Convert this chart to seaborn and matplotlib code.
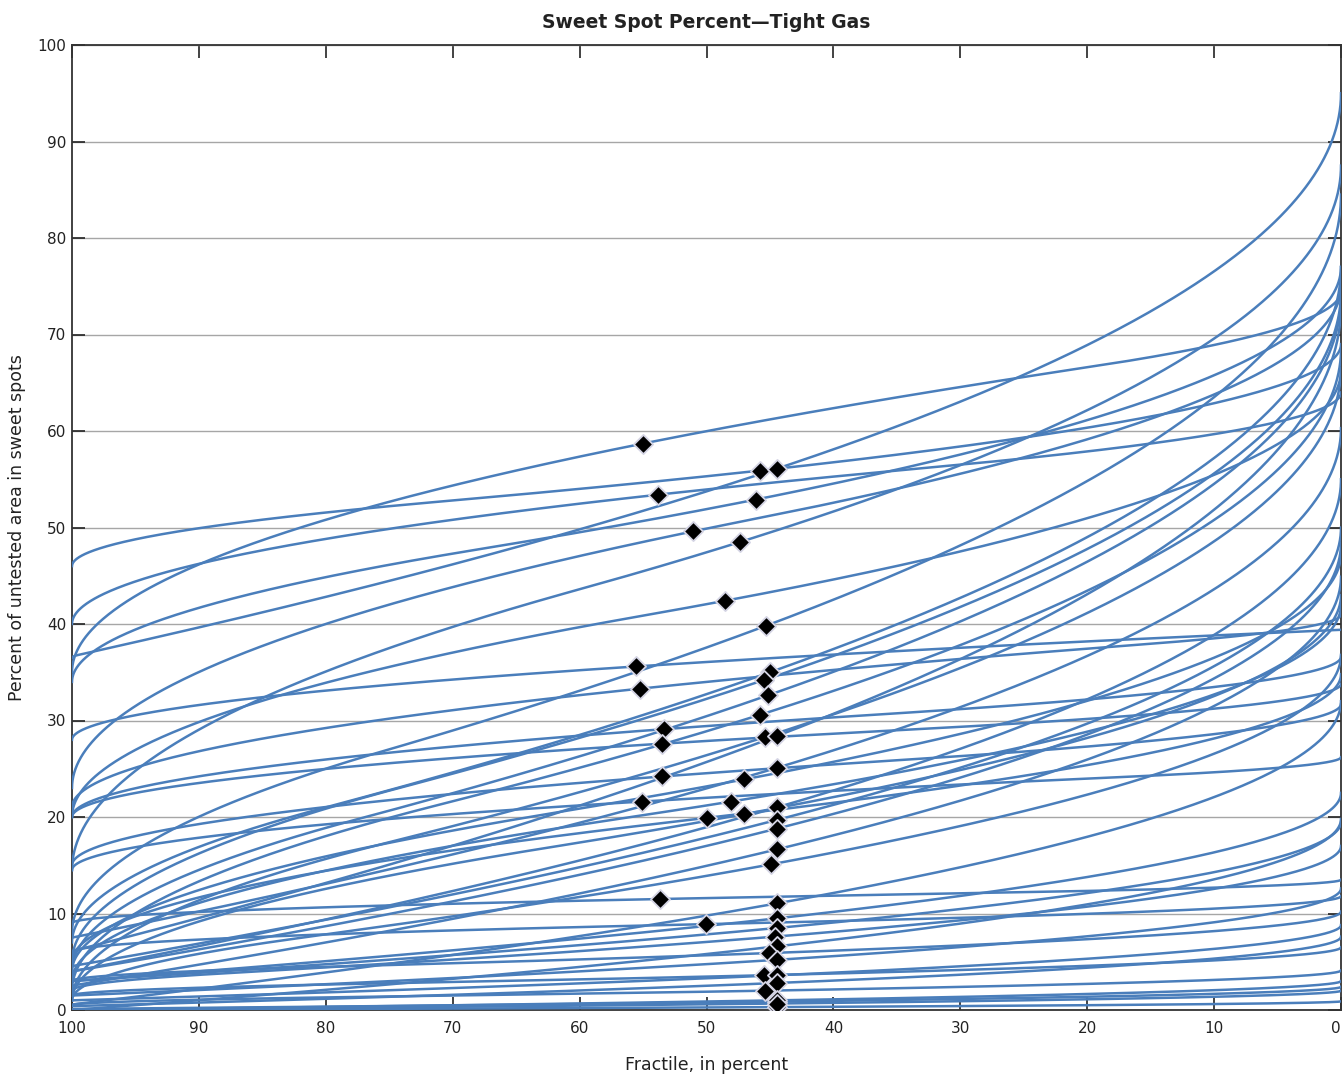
import numpy as np
import pandas as pd
import matplotlib
matplotlib.use("Agg")
import matplotlib.pyplot as plt
import seaborn as sns

# minimum (fractile 100), mean (diamond) and maximum (fractile 0) of each
# sweet spot percent distribution
sweet_min = [35, 46, 36.5, 40, 34, 23, 14.5, 20, 8, 28, 21, 7, 5, 4, 2, 20,
             20, 1, 6, 7.5, 15, 4, 14.5, 3, 5, 1, 4, 4.5, 4, 2.5, 1, 9, 0.5,
             6, 3, 3, 2, 0, 3, 1.5, 1.5, 1, 0.4, 0.5, 0.1, 0, 0, 0]
sweet_mean = [58.7, 55.9, 56.1, 53.4, 52.9, 49.6, 48.5, 42.4, 39.8, 35.6,
              33.3, 35.0, 34.2, 32.6, 30.6, 29.1, 27.6, 28.3, 28.4, 25.1,
              24.2, 23.9, 21.6, 21.6, 19.9, 20.3, 21.0, 19.7, 18.8, 16.65,
              15.1, 11.5, 11.05, 8.9, 9.5, 8.5, 7.6, 6.6, 5.9, 5.2, 3.6, 3.6,
              2.8, 2.0, 0.87, 0.3, 1.0, 0.67]
sweet_max = [74.5, 69, 95, 64, 77, 75, 87.5, 66.3, 84.5, 39.4, 41, 77, 74.5,
             74, 68.5, 36.6, 33.8, 66.5, 73, 60.3, 31.7, 47.3, 26.2, 42, 34.8,
             43, 55, 50, 48.4, 44.9, 36.8, 13.5, 32, 11.8, 22.5, 19.5, 17,
             19.8, 10.2, 12.6, 6.5, 8.8, 7.6, 4.1, 2.4, 0.9, 3.0, 2.0]

x_ticks = [100, 90, 80, 70, 60, 50, 40, 30, 20, 10, 0]
y_ticks = [0, 10, 20, 30, 40, 50, 60, 70, 80, 90, 100]

line_color = "#4A7EBB"
text_color = "#222222"


def tri_quantile(F, a, c, b):
    fc = (c - a) / (b - a)
    lo = a + np.sqrt(F * (b - a) * (c - a))
    hi = b - np.sqrt((1 - F) * (b - a) * (b - c))
    return np.where(F < fc, lo, hi)


def tri_cdf(x, a, c, b):
    if x < c:
        return (x - a) ** 2 / ((b - a) * (c - a))
    return 1 - (b - x) ** 2 / ((b - a) * (b - c))


t = np.linspace(0, 1, 601)
F = (1 - np.cos(np.pi * t)) / 2

rows, marks = [], []
for i, (a, m, b) in enumerate(zip(sweet_min, sweet_mean, sweet_max)):
    c = float(np.clip(3 * m - a - b, a, b))
    mean = (a + b + c) / 3
    rows.append(pd.DataFrame({"curve": i, "fractile": 100 * (1 - F),
                              "value": tri_quantile(F, a, c, b)}))
    marks.append({"curve": i, "fractile": 100 * (1 - tri_cdf(mean, a, c, b)),
                  "value": mean})
curves = pd.concat(rows, ignore_index=True)
means = pd.DataFrame(marks)

fig = plt.figure(figsize=(13.42, 10.82), dpi=100)
ax = fig.add_axes([72 / 1342, 1 - 1010 / 1082, 1269 / 1342, 965 / 1082])

sns.lineplot(data=curves, x="fractile", y="value", units="curve",
             estimator=None, sort=False, color=line_color, lw=1.8,
             legend=False, ax=ax, zorder=3)
sns.scatterplot(data=means, x="fractile", y="value", marker="D", s=95,
                color="black", edgecolor="#D4D4E4", linewidth=1.3,
                legend=False, ax=ax, zorder=4)

ax.set_xlim(100, 0)
ax.set_ylim(0, 100)
ax.set_xticks(x_ticks)
ax.set_yticks(y_ticks)
ax.yaxis.grid(True, color="#A6A6A6", lw=1.0, zorder=1)
ax.set_axisbelow(True)
ax.tick_params(direction="in", length=9.5, width=1.2, top=True, right=True,
               labelsize=11, colors=text_color)
ax.tick_params(axis="x", pad=8)
ax.tick_params(axis="y", pad=4)
ax.get_xticklabels()[-1].set_horizontalalignment("right")
for s in ax.spines.values():
    s.set_color("#333333")
    s.set_linewidth(1.3)

ax.set_title("Sweet Spot Percent\u2014Tight Gas", fontsize=13.5,
             fontweight="bold", pad=12, color=text_color)
ax.set_xlabel("Fractile, in percent", fontsize=12.5, labelpad=14,
              color=text_color)
ax.set_ylabel("Percent of untested area in sweet spots", fontsize=12.5,
              labelpad=8, color=text_color)

fig.savefig("out.png", dpi=100)
